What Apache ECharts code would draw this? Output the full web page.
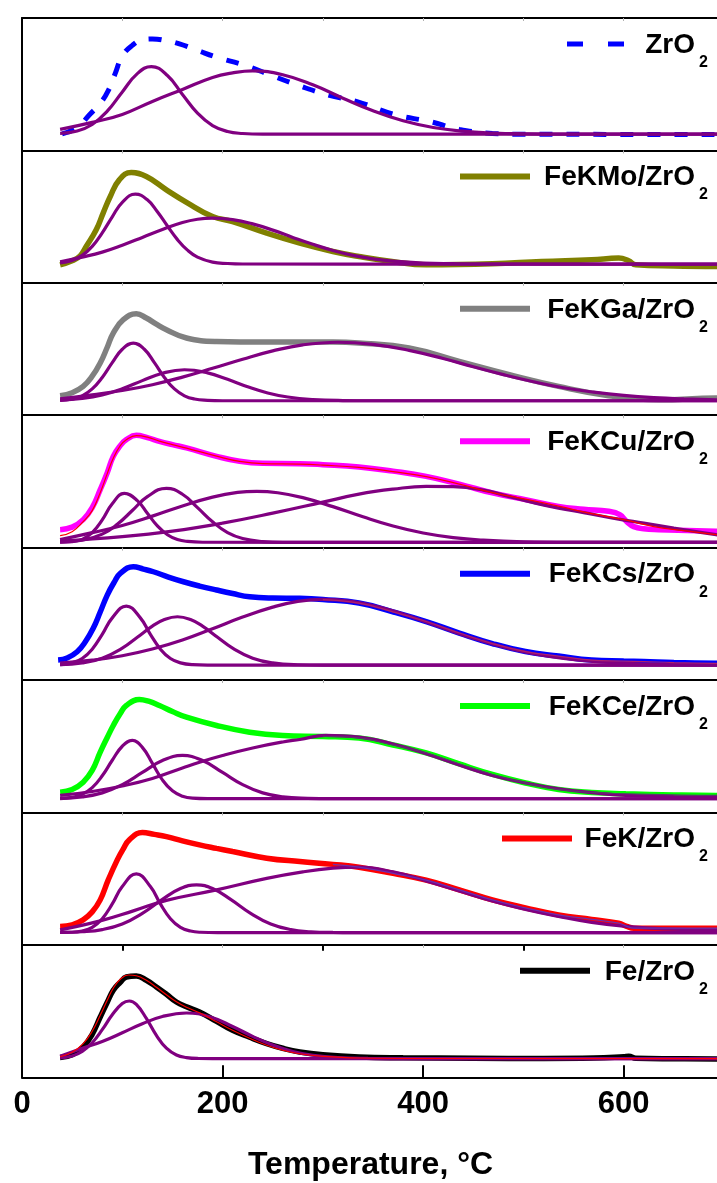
<!DOCTYPE html>
<html><head><meta charset="utf-8">
<script src="https://cdn.jsdelivr.net/npm/echarts@6/dist/echarts.min.js"></script>
<style>html,body{margin:0;padding:0;background:#fff}#c{width:717px;height:1183px}</style>
</head><body><div id="c"></div>
<script>
// ---------------- DATA (temperature °C, signal in panel units) ----------------
const xTickValues = [0, 200, 400, 600];
const xMinorTickValues = [100, 300, 500];
const xFaintTickValues = [100, 200, 300, 400, 500, 600];
const xTitle = 'Temperature, °C';
const sampleNames = ['ZrO2', 'FeKMo/ZrO2', 'FeKGa/ZrO2', 'FeKCu/ZrO2', 'FeKCs/ZrO2', 'FeKCe/ZrO2', 'FeK/ZrO2', 'Fe/ZrO2'];

// ZrO2
const zro2Exp = [[40,16.5],[55,23],[68,36.5],[78,47],[86,59.8],[93,77],[100,94.5],[110,105],[120,110.5],[130,111.5],[143,110],[157,106.5],[175,100],[194,93.2],[221,85.5],[250,74.5],[277,64.5],[305,55.5],[334,48.8],[373,35.5],[406,29],[436,21],[469,17],[500,16.2],[600,16],[700,15.8]];
const zro2PeakA = [[38,17],[55,19.4],[70,25.9],[85,39.2],[100,58.5],[115,76.8],[129,83.8],[145,74.9],[160,55.9],[175,37.2],[190,24.8],[205,18.9],[220,16.9],[240,16.2],[700,16.2]];
const zro2PeakB = [[38,21],[70,28],[100,36],[130,49],[160,61],[190,73],[210,77.5],[230,79.5],[260,75.7],[290,65.6],[320,52.2],[350,39.6],[380,29.6],[410,22.9],[440,19.2],[470,17.4],[500,16.6],[540,16.2],[700,16.2]];
// FeKMo/ZrO2
const femoExp = [[38,18],[50,22],[58,27],[64,36.3],[74,53],[81,70],[88,86.3],[97,103],[109,110.3],[124,106.3],[144,93],[164,80.5],[190,66.3],[210,61.3],[244,49.7],[277,39.7],[310,31.3],[336,26.3],[369,21.3],[403,18],[469,19],[518,21.3],[568,23],[595,24.7],[605,22],[612,18],[650,16.8],[700,16.3]];
const femoPeakA = [[38,19.8],[50,22.4],[60,27.4],[70,36.5],[80,50],[90,66],[100,80.5],[113,88.7],[125,83],[135,71.1],[145,56.8],[155,43.2],[165,32.7],[175,25.7],[190,20.7],[205,19.3],[220,18.8],[700,18.7]];
const femoPeakB = [[38,21],[60,25.7],[80,30.7],[100,37.6],[120,45.4],[140,53.4],[160,60.3],[175,63.6],[190,64.7],[210,63.2],[230,58.9],[250,52.7],[270,45.4],[290,38.5],[310,32.4],[330,27.5],[350,24],[370,21.7],[400,19.8],[430,19.1],[460,18.8],[700,18.7]];
// FeKGa/ZrO2
const fegaExp = [[38,19.5],[50,22.5],[61,28.8],[70,39],[78,52.2],[85,68],[91,82.2],[101,95.5],[114,101.5],[124,97.2],[134,91],[144,85.5],[164,77.2],[194,73.8],[244,73.2],[310,73.2],[336,72.2],[386,67.2],[436,53.8],[486,40.5],[535,28.8],[585,19.5],[635,15.5],[692,17.2],[700,17]];
const fegaPeakA = [[38,14.9],[50,16.2],[60,19.4],[70,26.3],[80,37.8],[90,52.6],[100,66],[111,72.2],[122,66],[132,52.6],[142,37.8],[152,26.3],[162,19.4],[172,16.2],[185,14.9],[200,14.5],[700,14.5]];
const fegaPeakB = [[38,15.2],[60,16.9],[80,20.4],[100,26.5],[120,34.6],[140,42],[162,45.5],[185,42.4],[205,35.9],[225,28.5],[245,22.3],[265,18.2],[290,15.7],[320,14.7],[350,14.5],[700,14.5]];
const fegaPeakC = [[38,16.5],[70,20.5],[100,24.7],[130,30.5],[160,38.1],[190,46.9],[220,56],[250,64.3],[280,70.4],[315,73],[350,70.9],[386,64.9],[420,56.7],[450,48.5],[480,40.6],[510,33.5],[540,27.5],[570,23.1],[600,19.8],[630,17.6],[660,16.3],[700,15.2]];
// FeKCu/ZrO2
const fecuExp = [[38,18],[50,20.5],[61,28],[70,40],[78,58],[85,75],[91,91.3],[98,102],[104,108],[114,112.3],[125,110],[137,106.3],[150,103],[164,99.7],[194,91.3],[217,86.3],[240,84.3],[277,84],[300,83],[336,80.7],[370,76.5],[403,71.3],[436,63.5],[469,54.7],[502,48],[535,41.3],[560,38.5],[585,36.3],[596,33],[603,26],[610,21],[620,18.8],[635,18],[692,16.3],[700,16.2]];
const fecuFit = [[38,12],[50,16],[61,26],[70,37],[78,55],[85,74],[91,89.5],[98,102],[104,108],[114,112],[125,110.5],[137,106.5],[150,103],[164,99.5],[194,91.5],[217,86.3],[240,84],[277,83.5],[300,82.5],[336,80.2],[370,76],[403,71],[436,63.5],[469,55],[502,48.5],[535,41.5],[568,34],[598,28.5],[630,21],[660,17],[692,13],[700,12]];
const fecuPeakA = [[38,5.6],[50,6],[60,8.3],[70,15],[80,27.7],[90,43.8],[102,54.3],[115,47],[125,34.4],[135,21.7],[145,12.9],[155,8.1],[165,6.2],[180,5.4],[700,5.3]];
const fecuPeakB = [[38,5.6],[60,7.4],[80,13.5],[95,23.3],[110,37.1],[125,51],[144,59.3],[160,53.4],[175,40],[190,25.8],[205,15],[220,9.1],[240,6.1],[260,5.3],[700,5.3]];
const fecuPeakC = [[38,8],[70,15],[100,22.1],[130,31.5],[160,41.7],[190,50.5],[215,55.2],[234,56.3],[255,54.9],[280,50],[310,41],[340,30.8],[370,21.6],[400,14.6],[430,10],[460,7.5],[500,5.9],[550,5.4],[700,5.3]];
const fecuPeakD = [[38,6.5],[100,11],[150,16.5],[200,24.5],[250,34.5],[300,45.5],[336,53.5],[370,58.5],[403,61.3],[430,61],[460,57.5],[486,51],[510,45],[535,39.5],[560,35],[595,28.5],[620,24.5],[650,19.5],[692,13],[700,12.5]];
// FeKCs/ZrO2
const fecsExp = [[36,20],[45,22],[55,28.3],[63,38],[71,51.7],[78,68],[85,85],[92,98],[98,106.7],[111,113.3],[121,111],[131,108.3],[146,103],[161,98.3],[177,94],[194,90],[210,86.5],[227,83.3],[250,82],[277,81.7],[300,80.5],[336,77],[369,68.5],[403,58.5],[436,47],[469,36.5],[502,28.5],[535,24],[568,20],[600,19],[620,18.5],[650,17.5],[692,16.7],[700,16.5]];
const fecsPeakA = [[38,15.4],[50,17.2],[60,21.5],[70,30.9],[80,45.7],[90,62.2],[104,74],[118,62.2],[128,45.7],[138,30.9],[148,21.5],[158,17.2],[170,15.4],[185,15],[700,15]];
const fecsPeakB = [[38,15.4],[60,17.1],[80,21.9],[100,31.9],[115,42.8],[130,53.9],[142,60.5],[155,63.3],[168,60.5],[180,53.9],[195,42.8],[210,31.9],[230,21.9],[250,17.1],[275,15.3],[300,15],[700,15]];
const fecsPeakC = [[38,17],[70,19.9],[100,24.3],[130,31],[160,40],[190,51.3],[220,63],[250,72.9],[275,78.7],[300,80.7],[330,78.4],[360,71.9],[390,62.6],[420,52],[450,41.8],[480,33.1],[510,26.3],[540,21.6],[570,18.6],[600,16.8],[640,15.7],[700,15.2]];
// FeKCe/ZrO2
const fekceExp = [[38,20.3],[50,23],[61,30.3],[70,42],[78,60.3],[85,75],[91,87],[98,99],[104,107],[117,113],[127,111],[137,107],[150,101],[164,95.3],[194,87],[227,80.3],[260,77],[300,76],[336,74.5],[370,67.5],[403,59.5],[436,48.5],[469,38],[502,29.5],[535,23],[568,20],[602,18.7],[650,17.5],[692,17],[700,17]];
const fekcePeakA = [[38,13.8],[50,15.1],[60,18.1],[70,24.8],[80,36.7],[90,52.2],[100,66.2],[110,72],[120,65.1],[130,49.1],[140,32.6],[150,21.6],[160,16.3],[170,14.3],[185,13.8],[700,13.7]];
const fekcePeakB = [[38,14.1],[60,15.6],[80,19.6],[100,27.8],[120,40],[140,51.9],[160,57],[180,51.9],[200,40],[220,27.8],[240,19.6],[260,15.6],[285,14.1],[310,13.7],[700,13.7]];
const fekcePeakC = [[38,17],[70,21],[100,26.5],[130,34],[160,44.5],[177,50.3],[200,57],[230,64.5],[260,70.5],[277,73],[303,77],[336,75.3],[370,68.5],[403,58.7],[436,47.5],[469,37],[502,29.5],[535,23.7],[568,19.8],[602,17],[650,15.8],[700,15.2]];
// FeK/ZrO2
const fekExp = [[38,18.3],[50,20],[61,25],[70,33],[78,45],[86,65],[95,85],[101,96],[107,105],[120,112.3],[132,110.5],[144,108.3],[160,104],[177,100],[194,96.5],[210,93.3],[244,86.7],[277,83.3],[310,80.5],[336,77.7],[370,71.5],[403,64.7],[436,55],[469,45],[502,37],[535,30],[568,25.5],[595,21.7],[603,18.5],[610,16.7],[650,16.7],[692,16.7],[700,16.5]];
const fekPeakA = [[38,12.5],[50,12.6],[60,13.8],[70,17.5],[80,26.2],[90,40.9],[100,58.3],[114,71],[128,58.3],[138,40.9],[148,26.2],[158,17.5],[168,13.8],[178,12.6],[195,12.3],[700,12.3]];
const fekPeakB = [[38,12.4],[60,13.1],[80,15.3],[100,20.9],[120,31.5],[140,45.5],[158,56.3],[174,60],[190,56.3],[208,45.5],[228,31.5],[248,20.9],[268,15.3],[288,13.1],[310,12.4],[330,12.3],[700,12.3]];
const fekPeakC = [[38,15],[78,24],[111,34],[144,44.5],[194,55],[244,66.5],[280,73],[310,76.7],[336,77.7],[370,73],[403,64],[436,54],[469,44],[502,35.5],[535,28.5],[568,22.5],[602,18.5],[640,16],[692,15],[700,15]];
// Fe/ZrO2
const feExp = [[38,19.7],[50,22.5],[61,30.3],[70,43],[78,60.3],[85,75],[91,87],[98,95],[104,100.3],[114,101.3],[124,97],[134,90.3],[144,83],[154,75.3],[164,70.5],[177,65.3],[194,56],[210,47],[227,40],[244,33.7],[260,29],[277,25.3],[300,22.5],[336,20.3],[380,19.5],[450,19],[520,18.8],[570,19.2],[600,20.5],[605,21],[612,19],[650,18.5],[700,18.3]];
const feFit = [[38,20.5],[50,25],[61,33.7],[70,46],[78,62],[85,77],[91,89],[98,98],[106,102.3],[114,101.5],[124,97],[134,90],[144,82.5],[154,75.5],[164,70],[177,64.5],[194,55.5],[210,47],[227,39],[244,32],[260,27],[277,23.5],[300,21],[336,19.3],[400,18.8],[700,18.7]];
const fePeakA = [[38,19.3],[50,21.3],[60,25.9],[70,34.5],[80,47.6],[90,62.5],[100,73.7],[107,76.3],[114,72.8],[124,58.8],[134,41.9],[144,29.1],[154,22.3],[164,19.7],[176,18.8],[190,18.7],[700,18.7]];
const fePeakB = [[38,21],[60,28.9],[80,35.8],[100,44.5],[120,53.5],[140,60.8],[164,64.3],[188,60.2],[210,50.8],[230,40.9],[250,32.2],[270,25.8],[290,22],[315,19.7],[345,18.9],[380,18.7],[700,18.7]];

// ---------------- LAYOUT / STYLE ----------------
const FONT = '"Liberation Sans", Arial, Helvetica, sans-serif';
const PURPLE = '#800080';
const GRID_TOP = 18, PANEL_H = 132.41, LEFT = 22, X_MAX = 693;
const SMOOTH = 0.45;

const panels = [
  {exp: zro2Exp, peaks: [zro2PeakA, zro2PeakB], color: '#0000ff', dashed: true},
  {exp: femoExp, peaks: [femoPeakA, femoPeakB], color: '#808000'},
  {exp: fegaExp, peaks: [fegaPeakA, fegaPeakB, fegaPeakC], color: '#808080'},
  {exp: fecuExp, peaks: [fecuPeakA, fecuPeakB, fecuPeakC, fecuPeakD], color: '#ff00ff', fit: fecuFit, fitColor: '#ff0000'},
  {exp: fecsExp, peaks: [fecsPeakA, fecsPeakB, fecsPeakC], color: '#0000ff', fit: fecsExp.filter(p => p[0] >= 300), fitColor: '#b0206a'},
  {exp: fekceExp, peaks: [fekcePeakA, fekcePeakB, fekcePeakC], color: '#00ff00', fit: fekceExp.filter(p => p[0] >= 300), fitColor: '#5a3a6a'},
  {exp: fekExp, peaks: [fekPeakA, fekPeakB, fekPeakC], color: '#ff0000', fit: fekExp.filter(p => p[0] >= 300), fitColor: '#6a2fb0'},
  {exp: feExp, peaks: [fePeakA, fePeakB], color: '#000000', fit: feFit, fitColor: '#ff0000'}
];
// legend key placement: [lineX1, lineX2]
const keyLayout = [[567, 625], [460, 530], [460, 530], [460, 530], [460, 530], [460, 530], [502, 572], [520, 590]];
const TEXT_RIGHT = 695, BASELINE_OFFSET = 37;

const grids = [], xAxes = [], yAxes = [], series = [], graphics = [];
function baseX(i, extra) {
  return Object.assign({
    gridIndex: i, type: 'value', min: 0, max: X_MAX, interval: 100,
    axisLine: {show: false, onZero: false},
    axisTick: {show: false}, minorTick: {show: false},
    axisLabel: {show: false}, splitLine: {show: false}, minorSplitLine: {show: false}
  }, extra);
}
panels.forEach((p, i) => {
  const top = GRID_TOP + i * PANEL_H;
  const bottom = i === panels.length - 1;
  grids.push({left: LEFT, right: 0, top: top, height: PANEL_H});
  if (bottom) {
    xAxes.push(baseX(i, {
      axisLine: {show: true, onZero: false, lineStyle: {color: '#000', width: 2}},
      axisTick: {show: true, inside: true, length: 12, customValues: xTickValues, lineStyle: {color: '#000', width: 2}},
      axisLabel: {show: true, fontSize: 31, fontWeight: 'bold', fontFamily: FONT, color: '#000', margin: 12,
                  customValues: xTickValues}
    }));
  } else {
    xAxes.push(baseX(i, {
      axisLine: {show: true, onZero: false, lineStyle: {color: '#000', width: 2}},
      axisTick: {show: true, inside: false, length: 3, customValues: xFaintTickValues, lineStyle: {color: '#b0b0b0', width: 1}}
    }));
  }
  yAxes.push({
    gridIndex: i, type: 'value', min: 0, max: PANEL_H,
    axisLine: {show: true, onZero: false, lineStyle: {color: '#000', width: 2}},
    axisTick: {show: false}, axisLabel: {show: false}, splitLine: {show: false}
  });
  series.push({
    type: 'line', name: sampleNames[i], xAxisIndex: i, yAxisIndex: i, data: p.exp,
    showSymbol: false, smooth: SMOOTH, silent: true, z: 2,
    lineStyle: p.dashed ? {color: p.color, width: 5, type: [13, 14]} : {color: p.color, width: 5.5}
  });
  p.peaks.forEach(pk => series.push({
    type: 'line', xAxisIndex: i, yAxisIndex: i, data: pk, showSymbol: false, smooth: SMOOTH,
    silent: true, z: 3, lineStyle: {color: PURPLE, width: 3.2}
  }));
  if (p.fit) series.push({
    type: 'line', xAxisIndex: i, yAxisIndex: i, data: p.fit, showSymbol: false, smooth: SMOOTH,
    silent: true, z: 4, lineStyle: {color: p.fitColor, width: 1.2}
  });
  // legend key
  const base = top + BASELINE_OFFSET;
  const k = keyLayout[i];
  graphics.push({
    type: 'line', shape: {x1: k[0], y1: base - 11, x2: k[1], y2: base - 11},
    style: p.dashed ? {stroke: p.color, lineWidth: 5, lineDash: [16, 25]} : {stroke: p.color, lineWidth: 6}
  });
  const name = sampleNames[i];
  graphics.push({
    type: 'text', x: TEXT_RIGHT, y: base - 10,
    style: {text: name.slice(0, -1), font: 'bold 28px ' + FONT, fill: '#000',
            align: 'right', textAlign: 'right', verticalAlign: 'middle', textVerticalAlign: 'middle'}
  });
  graphics.push({
    type: 'text', x: TEXT_RIGHT + 4, y: base + 7.5,
    style: {text: name.slice(-1), font: 'bold 16px ' + FONT, fill: '#000',
            align: 'left', textAlign: 'left', verticalAlign: 'middle', textVerticalAlign: 'middle'}
  });
});
// minor ticks on the bottom axis
xAxes.push(baseX(panels.length - 1, {
  axisTick: {show: true, inside: true, length: 6, customValues: xMinorTickValues, lineStyle: {color: '#000', width: 2}}
}));
// top frame line
xAxes.push(baseX(0, {
  position: 'top',
  axisLine: {show: true, onZero: false, lineStyle: {color: '#000', width: 2}},
  axisTick: {show: true, inside: true, length: 3, customValues: xFaintTickValues, lineStyle: {color: '#b0b0b0', width: 1}}
}));
graphics.push({
  type: 'text', x: 370.5, y: 1165,
  style: {text: xTitle, font: 'bold 32px ' + FONT, fill: '#000',
          align: 'center', textAlign: 'center', verticalAlign: 'middle', textVerticalAlign: 'middle'}
});

const chart = echarts.init(document.getElementById('c'), null, {renderer: 'canvas'});
chart.setOption({
  animation: false,
  backgroundColor: '#ffffff',
  grid: grids, xAxis: xAxes, yAxis: yAxes, series: series, graphic: graphics
});
</script></body></html>
